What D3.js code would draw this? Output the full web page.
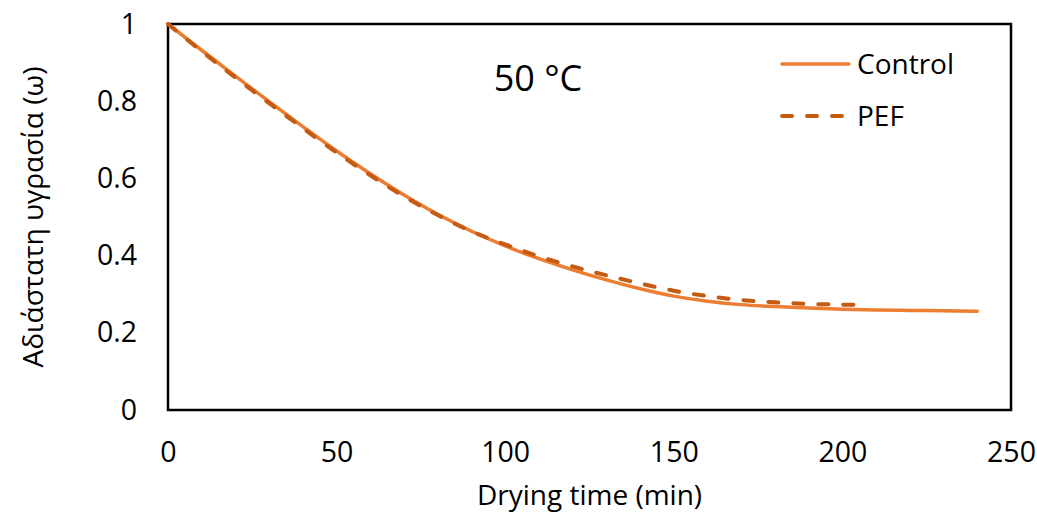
<!DOCTYPE html>
<html lang="el">
<head>
  <meta charset="UTF-8">
  <title>50 °C drying curve</title>
  <style>
    body { margin: 0; background: #fff; }
    svg { display: block; font-family: "Open Sans", sans-serif; }
  </style>
</head>
<body>
  <svg id="chart"></svg>
  <script src="https://d3js.org/d3.v7.min.js"></script>
  <script>
    // drying time (min) and dimensionless moisture
    const controlTime = [0, 10, 20, 30, 40, 50, 60, 70, 80, 90, 100, 110, 120, 130, 140, 150, 160, 170, 180, 190, 200, 210, 220, 230, 240];
    const controlMoist = [1.0, 0.932, 0.865, 0.799, 0.734, 0.671, 0.612, 0.557, 0.507, 0.463, 0.425, 0.392, 0.363, 0.337, 0.314, 0.295, 0.282, 0.273, 0.268, 0.264, 0.261, 0.259, 0.258, 0.257, 0.256];
    const pefTime = [0, 10, 20, 30, 40, 50, 60, 70, 80, 90, 100, 110, 120, 130, 140, 150, 160, 170, 180, 190, 200, 206];
    const pefMoist = [1.0, 0.929, 0.861, 0.795, 0.730, 0.667, 0.608, 0.553, 0.505, 0.463, 0.429, 0.398, 0.372, 0.349, 0.328, 0.309, 0.295, 0.285, 0.279, 0.275, 0.273, 0.272];
    const xTicks = [0, 50, 100, 150, 200, 250];
    const yTicks = [0, 0.2, 0.4, 0.6, 0.8, 1];

    const width = 1037, height = 513;
    const margin = { top: 24, right: 26, bottom: 103, left: 168 };

    const svg = d3.select("#chart").attr("width", width).attr("height", height);

    const x = d3.scaleLinear().domain([0, 250]).range([margin.left, width - margin.right]);
    const y = d3.scaleLinear().domain([0, 1]).range([height - margin.bottom, margin.top]);

    // plot frame
    svg.append("rect")
      .attr("x", x(0)).attr("y", y(1))
      .attr("width", x(250) - x(0)).attr("height", y(0) - y(1))
      .attr("fill", "none").attr("stroke", "#000").attr("stroke-width", 2.5);

    // axes (labels only, no tick marks)
    const xAxis = svg.append("g")
      .attr("transform", `translate(0,${y(0)})`)
      .call(d3.axisBottom(x).tickValues(xTicks).tickSize(0).tickPadding(32).tickFormat(d3.format("d")));
    const yAxis = svg.append("g")
      .attr("transform", `translate(${x(0)},0)`)
      .call(d3.axisLeft(y).tickValues(yTicks).tickSize(0).tickPadding(31).tickFormat(d => d === 0 || d === 1 ? d : d3.format(".1f")(d)));
    [xAxis, yAxis].forEach(g => {
      g.select(".domain").remove();
      g.selectAll("text").attr("font-family", "Open Sans, sans-serif").attr("font-size", 28.5).attr("fill", "#000");
    });

    const line = (xs, ys) => d3.line()
      .x((d, i) => x(xs[i]))
      .y(d => y(d))
      .curve(d3.curveCatmullRom)(ys);

    svg.append("path")
      .attr("d", line(controlTime, controlMoist))
      .attr("fill", "none").attr("stroke", "#ED7D31")
      .attr("stroke-width", 3.5).attr("stroke-linecap", "round");

    svg.append("path")
      .attr("d", line(pefTime, pefMoist))
      .attr("fill", "none").attr("stroke", "#C55A11")
      .attr("stroke-width", 4).attr("stroke-linecap", "round")
      .attr("stroke-dasharray", "10,15");

    // temperature label
    svg.append("text")
      .attr("x", 538).attr("y", 91)
      .attr("text-anchor", "middle")
      .attr("font-size", 36)
      .text("50 °C");

    // legend
    const legend = [
      { name: "Control", color: "#ED7D31", dash: null, w: 3.5 },
      { name: "PEF", color: "#C55A11", dash: "10,15", w: 4 }
    ];
    legend.forEach((d, i) => {
      const ly = 64 + i * 52;
      svg.append("line")
        .attr("x1", 782).attr("x2", 849).attr("y1", ly).attr("y2", ly)
        .attr("stroke", d.color).attr("stroke-width", d.w)
        .attr("stroke-linecap", "round")
        .attr("stroke-dasharray", d.dash);
      svg.append("text")
        .attr("x", 857).attr("y", ly).attr("dy", "0.35em")
        .attr("font-size", 28)
        .text(d.name);
    });

    // axis titles
    svg.append("text")
      .attr("x", (x(0) + x(250)) / 2).attr("y", 505)
      .attr("text-anchor", "middle").attr("font-size", 28)
      .text("Drying time (min)");

    svg.append("text")
      .attr("transform", `translate(43,${(y(0) + y(1)) / 2}) rotate(-90)`)
      .attr("text-anchor", "middle").attr("font-size", 28)
      .text("Αδιάστατη υγρασία (ω)");
  </script>
</body>
</html>
